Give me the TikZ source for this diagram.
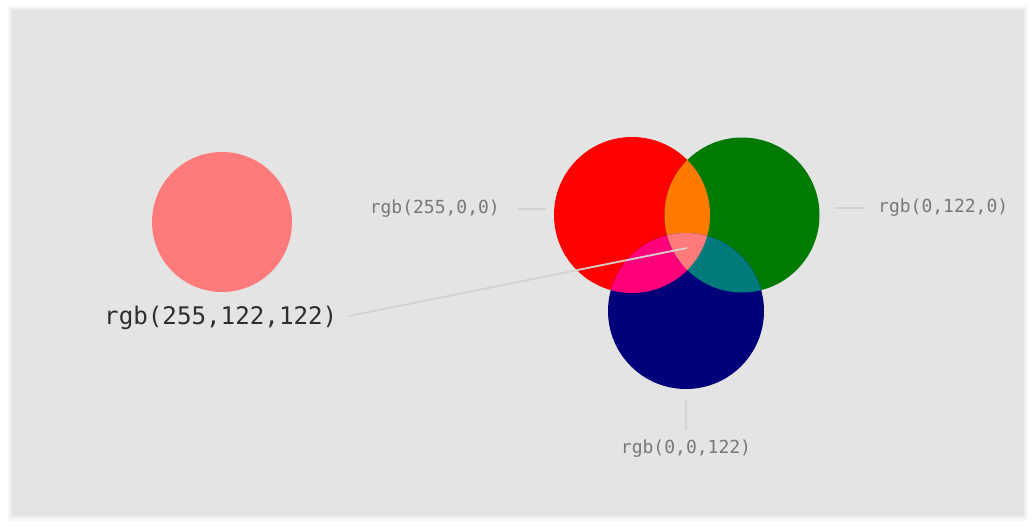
\documentclass[tikz,border=0pt]{standalone}
\usepackage{fontspec}
\newfontfamily\monofam{DejaVu Sans Mono}
\definecolor{bggray}{HTML}{E4E4E4}
\definecolor{shadowA}{HTML}{F7F7F7}
\definecolor{shadowB}{HTML}{EEEEEE}
\definecolor{linegray}{HTML}{D6D1CC}
\definecolor{labelgray}{HTML}{787878}
\definecolor{darktext}{HTML}{2E2E2E}
\definecolor{cpink}{RGB}{255,122,122}
\definecolor{cred}{RGB}{255,0,0}
\definecolor{cgreen}{RGB}{0,122,0}
\definecolor{cblue}{RGB}{0,0,122}
\definecolor{corange}{RGB}{255,122,0}
\definecolor{cmagenta}{RGB}{255,0,122}
\definecolor{cteal}{RGB}{0,122,122}
\begin{document}
\begin{tikzpicture}[x=1pt,y=-1pt,
  smalllabel/.style={font=\monofam\fontsize{18}{20}\selectfont, text=labelgray, inner sep=0pt},
  biglabel/.style={font=\monofam\fontsize{24.2}{26}\selectfont, text=darktext, inner sep=0pt},
  connector/.style={draw=linegray, line width=1.4pt},
  disc/.style={circle, inner sep=0pt, minimum size=#1, draw=none}]
\useasboundingbox (0,0) rectangle (1036,530);
\fill[white] (0,0) rectangle (1036,530);
\fill[shadowA] (8,6) rectangle (1028,521);
\fill[shadowB] (10,8) rectangle (1026,518);
\fill[bggray] (12,10) rectangle (1024,516);

% base circles
\node[disc=140pt, fill=cpink] (pinkc) at (222,222) {};
\node[disc=156pt, fill=cred] (redc) at (632,215) {};
\node[disc=155pt, fill=cgreen] (greenc) at (742,215) {};
\node[disc=156pt, fill=cblue] (bluec) at (686,311) {};

% overlaps
\begin{scope}
  \clip (632,215) circle (78);
  \fill[corange] (742,215) circle (77.5);
  \fill[cmagenta] (686,311) circle (78);
\end{scope}
\begin{scope}
  \clip (742,215) circle (77.5);
  \fill[cteal] (686,311) circle (78);
\end{scope}
\begin{scope}
  \clip (632,215) circle (78);
  \clip (742,215) circle (77.5);
  \fill[cpink] (686,311) circle (78);
\end{scope}

% labels
\node[smalllabel, anchor=east] (redlab) at (500,209) {rgb(255,0,0)};
\node[smalllabel, anchor=west] (greenlab) at (878,208) {rgb(0,122,0)};
\node[smalllabel, anchor=north] (bluelab) at (686,440) {rgb(0,0,122)};
\node[biglabel, anchor=west] (pinklab) at (104,318) {rgb(255,122,122)};

% connector end points
\coordinate (redA) at (517,209);
\coordinate (redB) at (546,209);
\coordinate (greenA) at (834,208);
\coordinate (greenB) at (864,208);
\coordinate (blueA) at (686,400);
\coordinate (blueB) at (686,430);
\coordinate (pinkA) at (349,316);
\coordinate (pinkB) at (687,248);

\draw[connector] (redA) -- (redB);
\draw[connector] (greenA) -- (greenB);
\draw[connector] (blueA) -- (blueB);
\draw[connector, line width=1.8pt] (pinkA) -- (pinkB);
\end{tikzpicture}
\end{document}
